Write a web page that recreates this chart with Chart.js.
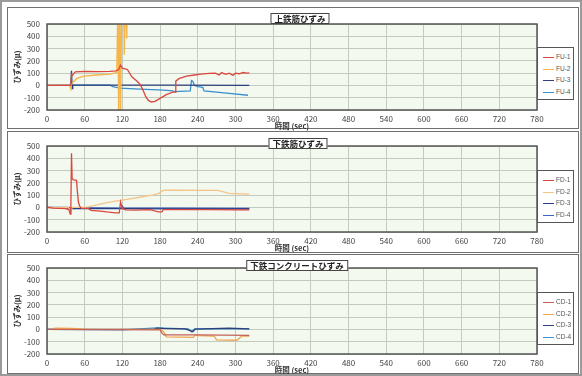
<!DOCTYPE html>
<html><head><meta charset="utf-8">
<script src="https://cdn.jsdelivr.net/npm/chart.js@4/dist/chart.umd.min.js"></script>
<style>
html,body{margin:0;padding:0;background:#fff;}
#page{position:relative;width:582px;height:376px;overflow:hidden;font-family:"Noto Sans CJK JP","Noto Sans",sans-serif;border:2px solid #9a9a9a;box-sizing:border-box;}
.panel{position:absolute;left:5px;width:572px;border:1.5px solid #707070;box-sizing:border-box;}
.cv{position:absolute;left:5px;width:571px;height:122px;}
.ttl{position:absolute;transform:translateX(-50%);background:#fff;border:1px solid #444;font-size:8.5px;font-weight:bold;line-height:9px;padding:0 3px;color:#222;white-space:nowrap;}
.lg{position:absolute;left:535px;width:37px;border:1px solid #555;background:#fff;box-sizing:border-box;padding:3px 0 2px 0;}
.lg div{position:relative;height:11.6px;font-size:6.5px;line-height:11.6px;color:#555;padding-left:18px;white-space:nowrap;font-family:"Liberation Sans",sans-serif;}
.lg div span{position:absolute;left:5px;top:6px;width:11px;height:1px;}
</style></head>
<body><div id="page">
<div class="panel" style="top:5px;height:122px"></div>
<div class="panel" style="top:129px;height:122px"></div>
<div class="panel" style="top:252px;height:120px"></div>
<div class="cv" style="top:7px"><canvas id="c1"></canvas></div>
<div class="cv" style="top:129px"><canvas id="c2"></canvas></div>
<div class="cv" style="top:251px"><canvas id="c3"></canvas></div>
<div class="ttl" style="left:298px;top:11px">上鉄筋ひずみ</div>
<div class="ttl" style="left:296px;top:136px">下鉄筋ひずみ</div>
<div class="ttl" style="left:295px;top:258px">下鉄コンクリートひずみ</div>
<div class="lg" id="l1" style="top:45px"></div>
<div class="lg" id="l2" style="top:168px"></div>
<div class="lg" id="l3" style="top:290px"></div>
</div>
<script>
// ---- axis ticks ----
const xMin = 0, xMax = 780, xStep = 60;
const yMin = -200, yMax = 500, yStep = 100;
const xTitle = '時間 (sec)';
const yTitle = 'ひずみ(μ)';

// ---- panel 1: 上鉄筋ひずみ ----
const fuLabels = ['FU-1','FU-2','FU-3','FU-4'];
const fu1T = [0,38,39,40,45,60,80,100,110,114,117,120,124,128,135,142,148,153,157,161,166,172,180,190,200,204,205,210,222,235,245,258,268,274,278,282,286,290,296,300,306,312,318,322];
const fu1V = [0,0,90,80,110,115,112,115,118,130,165,140,135,130,70,40,10,-40,-90,-120,-135,-130,-105,-75,-55,-55,35,55,75,85,92,98,100,85,105,95,92,100,82,100,95,105,100,103];
const fu2T = [0,36,38,39,42,47,58,79,100,111,113,114,116,117,119,122,123,125,127,128,135];
const fu2V = [0,0,-30,10,30,55,75,85,92,105,700,-300,700,-300,700,700,250,700,380,700,700];
const fu3T = [0,38,39,40,41,100,200,322];
const fu3V = [0,0,120,-25,2,3,2,0];
const fu4T = [0,60,100,105,116,148,186,200,203,228,230,232,235,240,248,250,286,320];
const fu4V = [0,3,2,-10,-22,-30,-38,-45,-50,-45,40,35,0,-10,-15,-45,-63,-80];

// ---- panel 2: 下鉄筋ひずみ ----
const fdLabels = ['FD-1','FD-2','FD-3','FD-4'];
const fd1T = [0,10,30,35,37,38,39,40,42,47,48,50,52,55,66,70,85,95,109,115,117,120,125,140,164,177,183,185,220,260,300,322];
const fd1V = [0,-5,-10,-20,-55,0,440,235,225,220,150,44,10,-8,-8,-24,-30,-37,-45,-45,44,-8,-20,-22,-18,-37,-37,-18,-18,-18,-20,-20];
const fd2T = [0,34,36,38,40,60,66,80,95,114,132,150,160,168,178,185,190,272,290,322];
const fd2V = [0,0,-15,-45,0,0,5,20,40,55,70,85,95,100,115,138,140,138,115,108];
const fd3T = [0,36,38,40,120,200,322];
const fd3V = [0,-5,-20,-8,-10,-12,-12];
const fd4T = [0,35,37,39,60,118,120,122,200,322];
const fd4V = [0,0,-30,-2,-3,-5,10,-3,-5,-8];

// ---- panel 3: 下鉄コンクリートひずみ ----
const cdLabels = ['CD-1','CD-2','CD-3','CD-4'];
const cd1T = [0,180,183,186,240,322];
const cd1V = [0,-3,-30,-45,-45,-48];
const cd2T = [10,15,40,60,180,186,190,233,236,240,266,270,302,310,322];
const cd2V = [8,10,8,2,0,-20,-60,-65,-45,-50,-55,-85,-88,-55,-55];
const cd3T = [0,170,175,185,220,228,232,236,290,322];
const cd3V = [0,0,10,8,5,-10,-18,3,10,5];
const cd4T = [0,120,175,185,225,230,235,322];
const cd4V = [0,-3,12,10,5,-20,5,5];

const colorsFU = ['#d9473f','#f5b54a','#2f3f7c','#3a8fcf'];
const colorsFD = ['#d9473f','#f4c48a','#283c86','#3d62c8'];
const colorsCD = ['#c4625a','#f0a552','#2f3f7c','#3a8fcf'];

const pts = (t, v) => t.map((x, i) => ({x: x, y: v[i]}));

const plotDeco = {
  id: 'plotDeco',
  beforeDraw(chart) {
    const a = chart.chartArea, c = chart.ctx;
    c.save(); c.fillStyle = '#f3f9ef'; c.fillRect(a.left, a.top, a.right - a.left, a.bottom - a.top); c.restore();
  },
  afterDraw(chart) {
    const a = chart.chartArea, c = chart.ctx;
    c.save(); c.strokeStyle = '#555'; c.lineWidth = 1.5;
    c.strokeRect(a.left, a.top, a.right - a.left, a.bottom - a.top); c.restore();
  }
};

function makeChart(id, labels, series, colors, legendId) {
  const datasets = series.map((s, i) => ({
    label: labels[i], data: pts(s[0], s[1]), borderColor: colors[i], backgroundColor: colors[i],
    borderWidth: 1.3, pointRadius: 0, tension: 0, fill: false
  }));
  new Chart(document.getElementById(id), {
    type: 'line',
    data: {datasets},
    options: {
      responsive: true, maintainAspectRatio: false, animation: false,
      layout: {padding: {left: 0, right: 41, top: 15, bottom: 0}},
      plugins: {legend: {display: false}, tooltip: {enabled: false}},
      scales: {
        x: {type: 'linear', min: xMin, max: xMax,
          ticks: {stepSize: xStep, autoSkip: false, color: '#444', padding: 4, maxRotation: 0, font: {size: 8, family: '"Noto Sans CJK JP"'}},
          grid: {color: '#c3cbbf', drawTicks: false}, border: {display: false},
          title: {display: true, text: xTitle, align: 'center', color: '#333', padding: {top: 0, bottom: 0}, font: {size: 7.5, weight: 'bold', family: '"Noto Sans CJK JP"'}},
          afterFit(s) { s.height = 21; }
        },
        y: {min: yMin, max: yMax,
          ticks: {stepSize: yStep, autoSkip: false, color: '#444', padding: 7, font: {size: 8, family: '"Noto Sans CJK JP"'}},
          grid: {color: '#c3cbbf', drawTicks: false}, border: {display: false},
          title: {display: true, text: yTitle, color: '#333', padding: {top: 6, bottom: 0}, font: {size: 7.5, weight: 'bold', family: '"Noto Sans CJK JP"'}},
          afterFit(s) { s.width = 40; }
        }
      }
    },
    plugins: [plotDeco]
  });
  const lg = document.getElementById(legendId);
  labels.forEach((l, i) => {
    const d = document.createElement('div');
    const sp = document.createElement('span'); sp.style.background = colors[i];
    d.appendChild(sp); d.appendChild(document.createTextNode(l)); lg.appendChild(d);
  });
}

makeChart('c1', fuLabels, [[fu1T,fu1V],[fu2T,fu2V],[fu3T,fu3V],[fu4T,fu4V]], colorsFU, 'l1');
makeChart('c2', fdLabels, [[fd1T,fd1V],[fd2T,fd2V],[fd3T,fd3V],[fd4T,fd4V]], colorsFD, 'l2');
makeChart('c3', cdLabels, [[cd1T,cd1V],[cd2T,cd2V],[cd3T,cd3V],[cd4T,cd4V]], colorsCD, 'l3');
</script>
</body></html>
